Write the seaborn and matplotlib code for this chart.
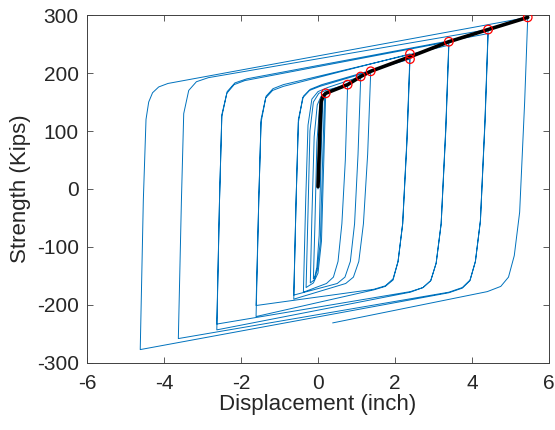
"""Cyclic hysteresis response with backbone curve (MATLAB-style figure)."""

import matplotlib
matplotlib.use("Agg")
import matplotlib.pyplot as plt
import seaborn as sns

# Blue hysteresis path (inch, kips)
loop_disp = [
    0.00, 0.06, 0.10, 0.12,                                  # initial loading
    0.08, 0.03, -0.03, -0.08, -0.12,
    -0.08, -0.03, 0.04, 0.10, 0.17,
    0.12, 0.06, -0.02, -0.10, -0.20,
    -0.16, -0.10, -0.02, 0.08, 0.20,
    0.15, 0.09, 0.00, -0.12, -0.31,
    -0.26, -0.21, -0.12, 0.02, 0.20, 0.77,
    0.71, 0.62, 0.52, 0.40, 0.22, -0.38,
    -0.32, -0.26, -0.16, 0.00, 0.25, 1.11,
    1.04, 0.95, 0.84, 0.70, 0.50, -0.63,
    -0.57, -0.51, -0.40, -0.22, 0.05, 1.37,
    1.29, 1.18, 1.06, 0.92, 0.72, -0.63,
    -0.57, -0.51, -0.38, -0.20, 0.10, 2.39,
    2.31, 2.20, 2.08, 1.95, 1.75, 1.45, -1.61,
    -1.54, -1.48, -1.36, -1.18, -0.90, 2.39,
    2.31, 2.20, 2.08, 1.95, 1.75, 1.45, -1.61,
    -1.54, -1.48, -1.35, -1.17, -0.90, 3.40,
    3.32, 3.20, 3.07, 2.93, 2.73, 2.40, -2.63,
    -2.56, -2.50, -2.37, -2.18, -1.90, 3.40,
    3.32, 3.20, 3.07, 2.93, 2.73, 2.40, -2.63,
    -2.56, -2.50, -2.36, -2.16, -1.85, 4.42,
    4.34, 4.22, 4.09, 3.95, 3.75, 3.40, -3.63,
    -3.55, -3.49, -3.36, -3.16, -2.85, 4.42,
    4.34, 4.22, 4.09, 3.95, 3.75, 3.40, -4.62,
    -4.54, -4.47, -4.40, -4.30, -4.14, -3.90, 5.45,
    5.37, 5.24, 5.10, 4.95, 4.75, 4.40, 0.38,                # last half cycle
]
loop_force = [
    0, 90, 140, 150,
    60, -80, -135, -150, -155,
    -60, 80, 140, 155, 160,
    50, -90, -140, -157, -162,
    -50, 90, 145, 160, 165,
    50, -90, -145, -162, -170,
    -40, 100, 150, 165, 170, 180,
    50, -60, -125, -152, -163, -178,
    -20, 110, 155, 168, 175, 194,
    60, -60, -125, -152, -163, -183,
    -20, 115, 157, 170, 177, 203,
    60, -60, -125, -152, -163, -190,
    -20, 120, 160, 172, 180, 224,
    80, -60, -125, -155, -167, -173, -201,
    -20, 115, 157, 170, 177, 233,
    85, -60, -125, -157, -168, -174, -220,
    -20, 120, 160, 173, 180, 248,
    100, -60, -128, -158, -170, -177, -233,
    -20, 125, 165, 180, 187, 254,
    105, -60, -128, -158, -170, -178, -243,
    -20, 128, 168, 183, 190, 268,
    115, -55, -125, -157, -170, -178, -258,
    -20, 130, 170, 185, 192, 275,
    120, -55, -125, -158, -171, -179, -277,
    -20, 120, 150, 166, 176, 182, 296,
    150, -40, -115, -152, -168, -177, -231,
]

# Backbone (black) and peak markers (red circles)
backbone_disp = [0.00, 0.03, 0.06, 0.08, 0.13, 0.20, 0.77, 1.11, 1.37, 2.39, 3.40, 4.42, 5.45]
backbone_force = [4, 60, 120, 150, 160, 165, 180, 194, 203, 228, 254, 275, 296]
peak_disp = [0.20, 0.77, 1.11, 1.37, 2.39, 2.39, 3.40, 4.42, 5.45]
peak_force = [165, 180, 194, 203, 224, 233, 254, 275, 296]

x_ticks = [-6, -4, -2, 0, 2, 4, 6]
y_ticks = [-300, -200, -100, 0, 100, 200, 300]

sns.set_theme(style="white")
plt.rcParams["font.family"] = ["Liberation Sans", "DejaVu Sans"]
plt.rcParams["axes.unicode_minus"] = False

fig = plt.figure(figsize=(5.55, 4.30), dpi=100)
ax = fig.add_axes([0.157, 0.156, 0.832, 0.809])

sns.lineplot(x=loop_disp, y=loop_force, sort=False, estimator=None,
             color="#0072BD", linewidth=0.7, ax=ax)
sns.lineplot(x=backbone_disp, y=backbone_force, sort=False, estimator=None,
             color="black", linewidth=2.6, ax=ax)
sns.scatterplot(x=peak_disp, y=peak_force, marker="o", s=38,
                facecolors="none", edgecolors="red", linewidths=0.9, ax=ax, zorder=5)

ax.set_xlim(-6, 6)
ax.set_ylim(-300, 300)
ax.set_xticks(x_ticks)
ax.set_yticks(y_ticks)
ax.set_xticklabels([str(t) for t in x_ticks])
ax.set_yticklabels([str(t) for t in y_ticks])
ax.set_xlabel("Displacement (inch)", fontsize=16, color="#262626", labelpad=1)
ax.set_ylabel("Strength (Kips)", fontsize=16, color="#262626", labelpad=4)
ax.tick_params(direction="in", length=4, width=0.6, colors="#404040",
               labelsize=15, labelcolor="#262626", top=True, right=True,
               bottom=True, left=True)
ax.tick_params(axis="x", pad=8)
ax.tick_params(axis="y", pad=6)
for side in ax.spines.values():
    side.set_color("#404040")
    side.set_linewidth(0.7)

fig.savefig("out.png", dpi=100)
